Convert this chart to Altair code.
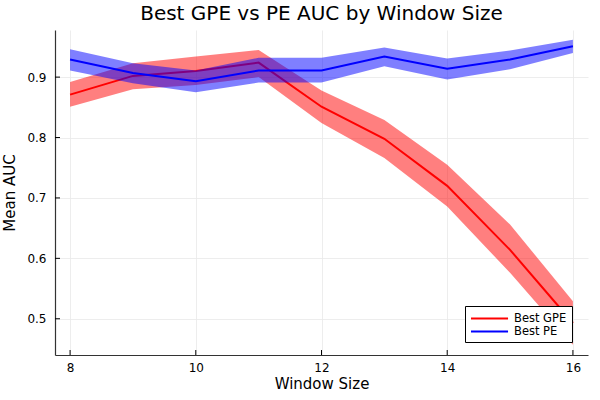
import altair as alt
import pandas as pd

# Mean AUC per window size with the shaded spread around each mean
windows = [8, 9, 10, 11, 12, 13, 14, 15, 16]

gpe_mean = [0.871, 0.902, 0.910, 0.924, 0.851, 0.798, 0.720, 0.614, 0.493]
gpe_lo = [0.851, 0.880, 0.887, 0.900, 0.824, 0.766, 0.686, 0.576, 0.457]
gpe_hi = [0.892, 0.923, 0.934, 0.945, 0.878, 0.829, 0.755, 0.656, 0.529]

pe_mean = [0.929, 0.907, 0.893, 0.911, 0.911, 0.934, 0.914, 0.929, 0.951]
pe_lo = [0.911, 0.890, 0.875, 0.891, 0.891, 0.918, 0.896, 0.913, 0.940]
pe_hi = [0.946, 0.923, 0.911, 0.932, 0.932, 0.949, 0.931, 0.944, 0.962]

series_names = ["Best GPE", "Best PE"]
series_colors = ["#ff0000", "#0000ff"]

x_ticks = [8, 10, 12, 14, 16]
y_ticks = [0.5, 0.6, 0.7, 0.8, 0.9]

rows = []
for name, means, los, his in [
    ("Best GPE", gpe_mean, gpe_lo, gpe_hi),
    ("Best PE", pe_mean, pe_lo, pe_hi),
]:
    for w, m, lo, hi in zip(windows, means, los, his):
        rows.append({"window": w, "series": name, "mean": m, "lo": lo, "hi": hi})
df = pd.DataFrame(rows)

W, H = 533, 325

x_scale = alt.Scale(domain=[7.76, 16.24], nice=False, zero=False)
y_scale = alt.Scale(domain=[0.44, 0.978], nice=False, zero=False)
color_scale = alt.Scale(domain=series_names, range=series_colors)

x_axis = alt.Axis(
    values=x_ticks, title="Window Size", grid=True, gridColor="#e8e8e8",
    gridWidth=0.8, ticks=False, domainColor="#333333", domainWidth=1.2,
    labelFont="DejaVu Sans", labelFontSize=12, labelColor="#000000",
    labelPadding=7, titleFont="DejaVu Sans", titleFontSize=15,
    titleFontWeight="normal", titleColor="#000000", titlePadding=3,
)
y_axis = alt.Axis(
    values=y_ticks, title="Mean AUC", grid=True, gridColor="#e8e8e8",
    gridWidth=0.8, ticks=False, domainColor="#333333", domainWidth=1.2,
    labelFont="DejaVu Sans", labelFontSize=12, labelColor="#000000",
    labelPadding=9, format=".1f", titleFont="DejaVu Sans", titleFontSize=15,
    titleFontWeight="normal", titleColor="#000000", titlePadding=9,
)
# short horizontal stroke as the legend key, starting at the symbol's left edge
legend = alt.Legend(
    title=None, orient="none", legendX=410, legendY=276,
    symbolType="M-1,0H4.7", symbolSize=169, symbolStrokeWidth=2,
    symbolOpacity=1, symbolFillColor="transparent",
    labelFont="DejaVu Sans", labelFontSize=11.5,
    labelColor="#000000", strokeColor="#000000", fillColor="#ffffff",
    padding=5, rowPadding=0, labelOffset=29,
)

X = alt.X("window:Q", scale=x_scale, axis=x_axis)
C = alt.Color("series:N", scale=color_scale, legend=legend)

base = alt.Chart(df)


def band(name):
    return base.transform_filter(alt.datum.series == name).mark_area(
        opacity=0.5
    ).encode(
        x=X,
        y=alt.Y("lo:Q", scale=y_scale, axis=y_axis),
        y2="hi:Q",
        color=C,
    )


def line(name):
    return base.transform_filter(alt.datum.series == name).mark_line(
        strokeWidth=2
    ).encode(
        x=X,
        y=alt.Y("mean:Q", scale=y_scale, axis=y_axis),
        color=C,
    )


# inward tick marks along the bottom and left axes
x_tick_df = pd.DataFrame({"window": x_ticks})
y_tick_df = pd.DataFrame({"mean": y_ticks})
x_tick_marks = alt.Chart(x_tick_df).mark_rule(color="#000000", strokeWidth=1).encode(
    x=X, y=alt.value(H), y2=alt.value(H - 5)
)
y_tick_marks = alt.Chart(y_tick_df).mark_rule(color="#000000", strokeWidth=1).encode(
    y=alt.Y("mean:Q", scale=y_scale, axis=y_axis), x=alt.value(0), x2=alt.value(5)
)

chart = alt.layer(
    band("Best GPE"),
    line("Best GPE"),
    band("Best PE"),
    line("Best PE"),
    x_tick_marks,
    y_tick_marks,
).properties(
    width=W,
    height=H,
    title=alt.TitleParams(
        "Best GPE vs PE AUC by Window Size", font="DejaVu Sans", fontSize=20,
        fontWeight="normal", color="#000000", anchor="middle", offset=6,
    ),
    autosize=alt.AutoSizeParams(type="none"),
    padding={"left": 55, "top": 30, "right": 12, "bottom": 45},
).configure(background="#ffffff").configure_view(stroke=None)

chart.save("out.html", embed_options={"renderer": "svg", "actions": False})
